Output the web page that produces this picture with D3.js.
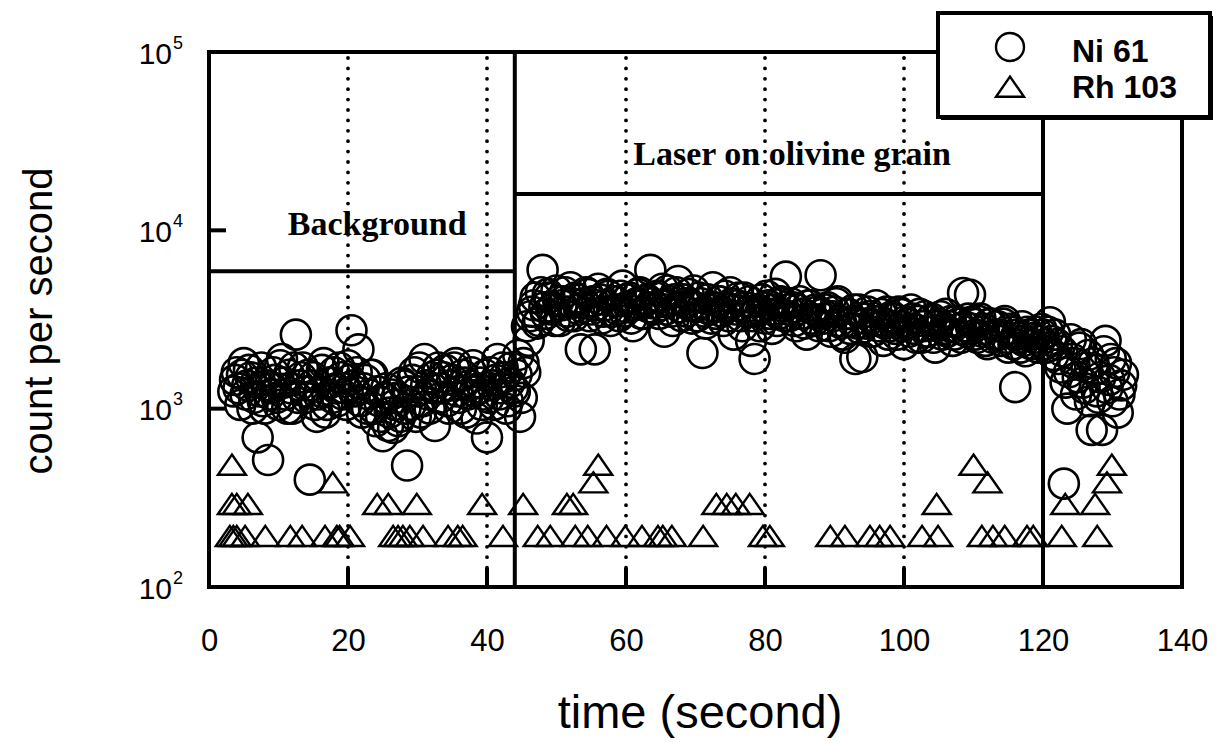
<!DOCTYPE html>
<html>
<head>
<meta charset="utf-8">
<script src="https://cdn.jsdelivr.net/npm/d3@7"></script>
<style>
  html, body { margin: 0; padding: 0; background: #fff; }
  svg { display: block; }
</style>
</head>
<body>
<svg id="chart" width="1217" height="742"></svg>
<script>
// Time-resolved laser-ablation ICP-MS signal: Ni 61 and Rh 103 count rates.

// Ni 61 acquisition: one reading every sweep
const niStart = 3.5;   // s
const niStep = 0.25;   // s
const niCounts = [
  // 3.5 - 8.25 s
  1250, 1450, 1600, 1300, 1050, 1550, 1800, 1200, 1350, 1650, 1500, 1000, 1150, 1400, 690, 1250, 1700, 1100, 1000, 1350,
  // 8.5 - 13.25 s
  515, 1200, 1300, 1600, 1450, 1150, 1050, 1750, 1900, 1400, 1200, 1000, 1550, 1300, 1000, 1700, 2600, 1150, 1350, 1500,
  // 13.5 - 18.25 s
  1700, 1250, 1150, 1550, 400, 1350, 1500, 1050, 900, 1200, 1250, 1650, 1800, 950, 1050, 1400, 1400, 1150, 1600, 1300,
  // 18.5 - 23.25 s
  1100, 1700, 1500, 1200, 1300, 1050, 1750, 1450, 2750, 1350, 1250, 1600, 2150, 1100, 950, 1300, 1450, 1000, 1200, 1550,
  // 23.5 - 28.25 s
  1550, 1000, 850, 1250, 1100, 900, 700, 1150, 1300, 800, 950, 1200, 780, 1050, 1150, 850, 900, 1400, 1350, 1000,
  // 28.5 - 33.25 s
  480, 1250, 1050, 1450, 1600, 900, 1250, 1700, 950, 1100, 1900, 1350, 1200, 1000, 1500, 1300, 800, 1550, 1700, 1150,
  // 33.5 - 38.25 s
  1300, 1500, 1650, 1100, 1000, 1350, 1450, 1700, 1800, 1250, 1150, 1000, 1550, 1400, 950, 1200, 1350, 1600, 1750, 1250,
  // 38.5 - 43.25 s
  880, 1300, 1400, 1050, 1200, 1550, 690, 1150, 1600, 1350, 1050, 1450, 1900, 1200, 1300, 1700, 1500, 1000, 1100, 1400,
  // 43.5 - 48.25 s
  1700, 1300, 1250, 1550, 2000, 900, 1150, 1800, 1600, 2900, 2400, 3300, 3500, 3800, 4200, 3000, 3100, 4500, 6000, 3700,
  // 48.5 - 53.25 s
  3400, 4400, 4200, 3600, 3700, 3100, 4600, 4000, 3100, 3800, 4000, 4500, 3500, 3300, 4800, 3900, 3300, 4200, 4100, 3600,
  // 53.5 - 58.25 s
  2150, 3700, 3900, 4500, 4400, 3300, 3600, 4000, 2150, 3800, 4700, 4100, 3200, 3500, 3800, 4400, 4300, 3100, 3500, 4000,
  // 58.5 - 63.25 s
  4000, 3600, 3300, 4300, 4900, 3500, 3700, 4100, 4200, 3200, 2900, 3800, 3900, 4400, 4500, 3400, 3400, 4000, 4100, 3700,
  // 63.5 - 68.25 s
  6000, 3900, 3600, 4200, 4300, 3400, 3800, 4700, 2700, 3600, 4600, 4000, 3500, 3100, 4100, 4500, 5200, 3700, 3300, 4100,
  // 68.5 - 73.25 s
  3900, 3500, 4400, 3800, 3200, 4600, 3700, 3300, 4200, 3900, 2050, 3500, 3000, 4100, 3600, 3200, 4800, 3700, 3400, 4000,
  // 73.5 - 78.25 s
  4000, 3500, 3100, 4300, 3700, 3300, 4500, 3900, 2600, 3600, 3800, 4200, 3300, 2900, 4200, 3700, 3500, 4000, 2400, 3300,
  // 78.5 - 83.25 s
  1900, 3500, 3600, 2900, 4100, 3700, 3200, 4300, 3800, 3400, 2800, 3600, 4400, 3100, 3400, 4000, 3900, 3300, 5500, 3600,
  // 83.5 - 88.25 s
  3300, 3900, 3700, 3100, 2900, 3600, 4000, 3400, 3400, 3000, 2600, 3800, 3800, 3200, 3100, 3600, 3500, 2900, 5600, 3400,
  // 88.5 - 93.25 s
  3200, 3600, 3700, 2900, 2700, 3300, 3500, 3900, 4000, 3100, 3000, 2600, 2500, 3400, 3400, 2800, 3100, 3600, 1900, 3000,
  // 93.5 - 98.25 s
  3600, 2800, 1950, 3200, 3000, 3500, 3300, 2700, 2700, 3100, 3800, 2900, 3100, 3400, 2400, 3000, 3500, 2600, 2900, 3300,
  // 98.5 - 103.25 s
  3200, 2800, 2600, 3500, 3400, 2900, 2300, 3100, 3000, 2700, 3600, 3200, 2800, 2500, 3100, 3400, 2500, 2900, 3300, 2700,
  // 103.5 - 108.25 s
  2700, 3100, 3200, 2500, 2200, 2900, 3000, 3300, 2600, 2800, 3400, 2700, 2900, 3100, 2400, 2600, 3100, 3000, 2800, 2500,
  // 108.5 - 113.25 s
  4450, 2900, 2700, 3200, 4350, 2800, 3000, 2600, 2500, 3100, 3200, 2700, 2800, 2400, 2300, 3000, 3000, 2500, 2600, 2900,
  // 113.5 - 118.25 s
  2900, 2600, 2400, 3000, 3100, 2500, 2200, 2800, 2700, 2300, 1320, 2600, 2500, 2200, 2900, 2400, 2100, 2700, 2600, 2300,
  // 118.5 - 123.25 s
  2300, 2500, 2700, 2200, 2400, 2800, 2600, 2300, 2200, 2700, 3050, 2400, 2000, 2600, 2300, 1900, 1700, 2100, 380, 1400,
  // 123.5 - 128.25 s
  1000, 1600, 2450, 1900, 1800, 1200, 1500, 2200, 2300, 1400, 1300, 1700, 2000, 1100, 760, 1800, 1650, 1250, 1150, 1500,
  // 128.5 - 131.5 s
  760, 2100, 2400, 1300, 1450, 1900, 1100, 1600, 1800, 950, 1200, 1350, 1550
];

// Rh 103 readings above zero (time in s, counts per second)
const rhTimes = [
  3.0, 3.5, 4.0, 5.2, 8.1, 11.7, 13.4, 16.7, 18.4, 18.8, 20.3,
  26.5, 27.2, 27.9, 28.9, 30.8, 34.4, 35.8, 36.5, 42.3,
  47.3, 49.1, 52.7, 54.5, 57.2, 59.9, 62.3, 64.6, 65.3, 66.6, 71.1,
  79.7, 80.7, 89.4, 91.5, 95.1, 96.5, 98.0, 102.6, 104.9,
  111.2, 112.8, 114.5, 117.7, 118.6, 122.7, 127.8,
  3.3, 4.0, 5.6, 24.2, 25.8, 29.9, 39.3, 45.2, 51.5, 52.4,
  73.0, 74.5, 75.8, 77.8, 104.7, 123.2, 127.5,
  17.8, 55.3, 112.0, 129.2,
  3.3, 56.0, 110.0, 129.9
];
const rhCounts = [
  185, 185, 185, 185, 185, 185, 185, 185, 185, 185, 185,
  185, 185, 185, 185, 185, 185, 185, 185, 185,
  185, 185, 185, 185, 185, 185, 185, 185, 185, 185, 185,
  185, 185, 185, 185, 185, 185, 185, 185, 185,
  185, 185, 185, 185, 185, 185, 185,
  280, 280, 280, 280, 280, 280, 280, 280, 280, 280,
  280, 280, 280, 280, 280, 280, 280,
  370, 370, 370, 370,
  465, 465, 465, 465
];

const seriesNames = ["Ni 61", "Rh 103"];
const xTickValues = [0, 20, 40, 60, 80, 100, 120, 140];
const yTickValues = [1e2, 1e3, 1e4, 1e5];
const gridTimes = [20, 40, 60, 80, 100];
const innerTickTimes = [20, 40, 60, 80, 100];
const innerTickCounts = [1e3, 1e4];

// Acquisition phases
const phaseStart = [0, 44];
const phaseEnd = [44, 120];
const phaseLabels = ["Background", "Laser on olivine grain"];
const phaseBoxTop = [5900, 16000];
const phaseLabelTime = [24.2, 83.9];
const phaseLabelCps = [9400, 23300];

const xLabel = "time (second)";
const yLabel = "count per second";

// ---------------------------------------------------------------------------
const svg = d3.select("#chart");
const W = 1217, H = 742;
const m = { left: 209, right: 1182, top: 52, bottom: 587 };

const x = d3.scaleLinear().domain([0, 140]).range([m.left, m.right]);
const y = d3.scaleLog().domain([1e2, 1e5]).range([m.bottom, m.top]);

svg.append("rect").attr("width", W).attr("height", H).attr("fill", "#fff");

const niData = niCounts.map((c, i) => ({ t: niStart + i * niStep, c }));
const rhData = rhTimes.map((t, i) => ({ t, c: rhCounts[i] }));

// flattened open triangle, centroid at origin; size = width^2
const flatTriangle = {
  draw(ctx, size) {
    const w = Math.sqrt(size), hw = w / 2, h = w * 0.72;
    ctx.moveTo(0, -h * 2 / 3);
    ctx.lineTo(hw, h / 3);
    ctx.lineTo(-hw, h / 3);
    ctx.closePath();
  }
};
const triPath = d3.symbol().type(flatTriangle).size(28 * 28);

// dotted guide lines
svg.append("g")
  .selectAll("line")
  .data(gridTimes)
  .join("line")
  .attr("x1", d => x(d)).attr("x2", d => x(d))
  .attr("y1", m.top + 6).attr("y2", m.bottom - 18)
  .attr("stroke", "#000")
  .attr("stroke-width", 3.8)
  .attr("stroke-linecap", "round")
  .attr("stroke-dasharray", "0,10.4");

// markers
const marks = svg.append("g");
marks.selectAll("circle")
  .data(niData)
  .join("circle")
  .attr("cx", d => x(d.t))
  .attr("cy", d => y(d.c))
  .attr("r", 15)
  .attr("fill", "none")
  .attr("stroke", "#000")
  .attr("stroke-width", 2.6);

marks.selectAll("path")
  .data(rhData)
  .join("path")
  .attr("transform", d => `translate(${x(d.t)},${y(d.c)})`)
  .attr("d", triPath)
  .attr("fill", "none")
  .attr("stroke", "#000")
  .attr("stroke-width", 2.4)
  .attr("stroke-linejoin", "miter");

// phase boxes and boundaries
const frame = svg.append("g").attr("stroke", "#000").attr("stroke-width", 4).attr("fill", "none");
phaseStart.forEach((s, i) => {
  frame.append("line")
    .attr("x1", x(s)).attr("x2", x(phaseEnd[i]))
    .attr("y1", y(phaseBoxTop[i])).attr("y2", y(phaseBoxTop[i]));
});
phaseEnd.forEach(e => {
  frame.append("line")
    .attr("x1", x(e)).attr("x2", x(e))
    .attr("y1", m.top).attr("y2", m.bottom);
});

// plot frame
frame.append("rect")
  .attr("x", m.left).attr("y", m.top)
  .attr("width", m.right - m.left).attr("height", m.bottom - m.top)
  .attr("stroke-linejoin", "miter");

// inner ticks
innerTickTimes.forEach(t => {
  frame.append("line")
    .attr("x1", x(t)).attr("x2", x(t))
    .attr("y1", m.bottom).attr("y2", m.bottom - 19);
});
innerTickCounts.forEach(c => {
  frame.append("line")
    .attr("x1", m.left).attr("x2", m.left + 17)
    .attr("y1", y(c)).attr("y2", y(c));
});

// phase labels
phaseLabels.forEach((lab, i) => {
  svg.append("text")
    .attr("x", x(phaseLabelTime[i]))
    .attr("y", y(phaseLabelCps[i]))
    .attr("text-anchor", "middle")
    .attr("font-family", "'Liberation Serif', 'Times New Roman', serif")
    .attr("font-weight", "bold")
    .attr("font-size", 34)
    .attr("fill", "#000")
    .text(lab);
});

// x axis labels (D3 axis, line work hidden; frame drawn above)
const xAxis = svg.append("g")
  .attr("transform", `translate(0,${m.bottom})`)
  .call(d3.axisBottom(x).tickValues(xTickValues).tickSize(0).tickPadding(64).tickFormat(d3.format("d")));
xAxis.select(".domain").remove();
xAxis.selectAll("text")
  .attr("font-family", "'Liberation Sans', Arial, sans-serif")
  .attr("font-size", 31)
  .attr("fill", "#000")
  .attr("dy", 0);

// y axis labels as powers of ten
const yAxis = svg.append("g")
  .attr("transform", `translate(${m.left},0)`)
  .call(d3.axisLeft(y).tickValues(yTickValues).tickSize(0).tickFormat(() => ""));
yAxis.select(".domain").remove();
yAxis.selectAll(".tick").each(function (d) {
  const g = d3.select(this);
  g.select("text").remove();
  g.append("text")
    .attr("x", -37).attr("y", 11)
    .attr("text-anchor", "end")
    .attr("font-family", "'Liberation Sans', Arial, sans-serif")
    .attr("font-size", 30)
    .attr("fill", "#000")
    .text("10");
  g.append("text")
    .attr("x", -36).attr("y", -4)
    .attr("text-anchor", "start")
    .attr("font-family", "'Liberation Sans', Arial, sans-serif")
    .attr("font-size", 18)
    .attr("fill", "#000")
    .text(Math.round(Math.log10(d)));
});

// axis titles
svg.append("text")
  .attr("x", 700).attr("y", 728)
  .attr("text-anchor", "middle")
  .attr("font-family", "'Liberation Sans', Arial, sans-serif")
  .attr("font-size", 47)
  .attr("fill", "#000")
  .text(xLabel);

svg.append("text")
  .attr("transform", "translate(52,321) rotate(-90)")
  .attr("text-anchor", "middle")
  .attr("font-family", "'Liberation Sans', Arial, sans-serif")
  .attr("font-size", 40)
  .attr("fill", "#000")
  .text(yLabel);

// legend
const lg = svg.append("g").attr("transform", "translate(938,13)");
lg.append("rect")
  .attr("x", 3).attr("y", 3).attr("width", 272).attr("height", 104)
  .attr("fill", "#000");
lg.append("rect")
  .attr("x", 0).attr("y", 0).attr("width", 272).attr("height", 104)
  .attr("fill", "#fff").attr("stroke", "#000").attr("stroke-width", 4);
lg.append("circle")
  .attr("cx", 72).attr("cy", 34).attr("r", 14)
  .attr("fill", "none").attr("stroke", "#000").attr("stroke-width", 2.4);
lg.append("path")
  .attr("transform", "translate(72,77)")
  .attr("d", d3.symbol().type(flatTriangle).size(28 * 28))
  .attr("fill", "none").attr("stroke", "#000").attr("stroke-width", 2.4);
lg.selectAll("text.lab")
  .data(seriesNames)
  .join("text")
  .attr("class", "lab")
  .attr("x", 134)
  .attr("y", (d, i) => 49 + i * 36)
  .attr("font-family", "'Liberation Sans', Arial, sans-serif")
  .attr("font-weight", "bold")
  .attr("font-size", 32)
  .attr("fill", "#000")
  .text(d => d);
</script>
</body>
</html>
